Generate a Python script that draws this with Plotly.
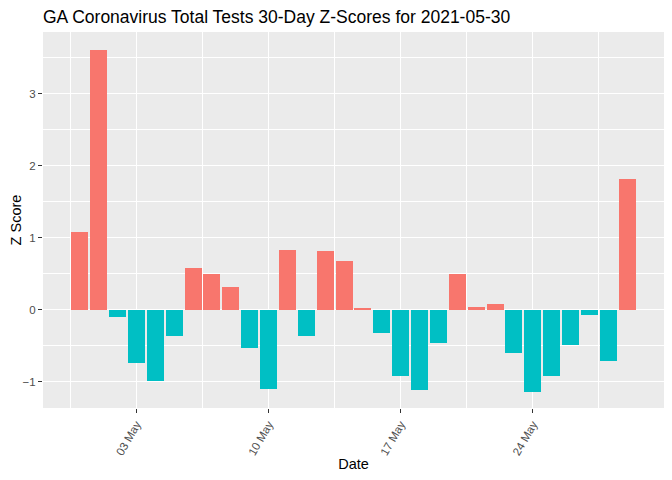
import plotly.graph_objects as go
import pandas as pd

dates = pd.date_range("2021-04-30", "2021-05-29", freq="D").strftime("%Y-%m-%d").tolist()
z_scores = [1.08, 3.61, -0.10, -0.74, -0.99, -0.37, 0.58, 0.49, 0.31, -0.53,
            -1.10, 0.83, -0.37, 0.81, 0.67, 0.01, -0.33, -0.92, -1.11, -0.47,
            0.49, 0.04, 0.08, -0.60, -1.14, -0.92, -0.49, -0.07, -0.71, 1.81]
pos_color = "#F8766D"
neg_color = "#00BFC4"
title = "GA Coronavirus Total Tests 30-Day Z-Scores for 2021-05-30"

colors = [pos_color if v > 0 else neg_color for v in z_scores]
DAY = 86400000

fig = go.Figure(go.Bar(
    x=dates, y=z_scores, marker=dict(color=colors, line=dict(width=0)),
    width=0.9 * DAY, showlegend=False,
))

start = pd.Timestamp(dates[0])
x0 = start - pd.Timedelta(days=1.945)
x1 = start + pd.Timedelta(days=30.945)

# page body adds an 8px offset, so the figure is 664x472
W, H = 664, 472
fig.update_layout(
    width=W, height=H,
    margin=dict(l=35, r=8, t=24, b=72, autoexpand=False),
    paper_bgcolor="white", plot_bgcolor="#EBEBEB",
    font=dict(family="Liberation Sans, Arial, sans-serif", color="black"),
    title=dict(text=title, x=35 / W, xanchor="left", y=1 - 8.5 / H, yanchor="middle",
               font=dict(size=17.5, color="black")),
    bargap=0,
)
fig.update_xaxes(
    type="date", range=[x0, x1], automargin=False,
    tick0="2021-05-03", dtick=7 * DAY, tickformat="%d %b", tickangle=-60,
    ticks="outside", ticklen=4, tickcolor="#333333", tickwidth=1,
    tickfont=dict(size=11.5, color="#4D4D4D"),
    showgrid=True, gridcolor="white", gridwidth=1.4,
    minor=dict(tick0="2021-04-29 12:00", dtick=3.5 * DAY, showgrid=True,
               gridcolor="white", gridwidth=0.7, ticks=""),
    zeroline=False, showline=False,
    title=dict(text="Date", font=dict(size=14.5, color="black"), standoff=2),
)
fig.update_yaxes(
    range=[-1.367, 3.856], tick0=0, dtick=1, automargin=False,
    ticks="outside", ticklen=4, tickcolor="#333333", tickwidth=1,
    tickfont=dict(size=11.5, color="#4D4D4D"),
    showgrid=True, gridcolor="white", gridwidth=1.4,
    minor=dict(tick0=0.5, dtick=1, showgrid=True, gridcolor="white", gridwidth=0.7, ticks=""),
    zeroline=False, showline=False,
    title=dict(text="Z Score", font=dict(size=14.5, color="black"), standoff=0),
)

fig.write_html("out.html")
